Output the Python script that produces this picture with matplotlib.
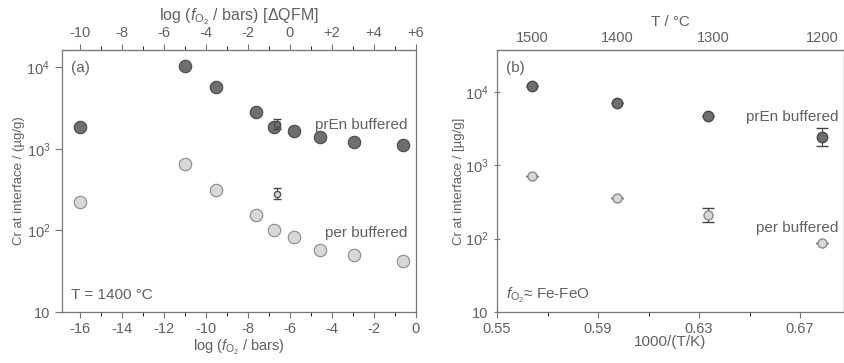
import matplotlib
matplotlib.use("Agg")
import matplotlib.pyplot as plt
from matplotlib.ticker import FixedLocator, NullLocator

plt.rcParams["font.family"] = ["Liberation Sans", "DejaVu Sans"]
plt.rcParams["mathtext.fontset"] = "custom"
plt.rcParams["mathtext.rm"] = "Liberation Sans"
plt.rcParams["mathtext.it"] = "Liberation Sans:italic"
plt.rcParams["axes.unicode_minus"] = False

TXT = "#606060"
DARK = "#6e6e6e"
DARK_EDGE = "#4a4a4a"
LIGHT = "#d8d8d8"
LIGHT_EDGE = "#8a8a8a"

# panel (a): log fO2 (bars) vs Cr at interface, T = 1400 C
a_prEn_x = [-16.0, -11.0, -9.5, -7.6, -6.73, -5.8, -4.55, -2.95, -0.6]
a_prEn_y = [1870, 10200, 5700, 2800, 1870, 1630, 1410, 1200, 1100]
a_per_x = [-16.0, -11.0, -9.5, -7.6, -6.73, -5.8, -4.55, -2.95, -0.6]
a_per_y = [225, 650, 316, 156, 102, 83, 58, 50, 42]
# single runs with error bars near log fO2 = -6.6
a_err_x = [-6.6, -6.6]
a_err_y = [2000, 280]
a_err_lo = [250, 40]
a_err_hi = [300, 50]

# panel (b): 1000/T vs Cr at interface, fO2 ~ Fe-FeO
b_x = [0.5640, 0.5977, 0.6335, 0.6785]
b_prEn_y = [12000, 7100, 4700, 2450]
b_prEn_lo = [0, 0, 0, 620]
b_prEn_hi = [0, 0, 0, 750]
b_per_y = [710, 357, 210, 87]
b_per_lo = [0, 0, 40, 0]
b_per_hi = [0, 0, 55, 0]

qfm_ticks = [-10, -8, -6, -4, -2, 0, 2, 4, 6]
qfm_labels = ["-10", "-8", "-6", "-4", "-2", "0", "+2", "+4", "+6"]
t_ticks = [1500, 1400, 1300, 1200]
y_ticks = [10, 100, 1000, 10000]
y_labels = ["10", r"10$^2$", r"10$^3$", r"10$^4$"]

fig = plt.figure(figsize=(8.45, 3.63), dpi=100)
axa = fig.add_axes([62 / 845, 51 / 363, 354 / 845, 262 / 363])
axb = fig.add_axes([497 / 845, 51 / 363, 347 / 845, 262 / 363])


def style(ax, ydir):
    for s in ax.spines.values():
        s.set_color("#777777")
        s.set_linewidth(0.9)
    ax.tick_params(colors="#777777", labelcolor=TXT, labelsize=10.5, width=0.8)
    ax.tick_params(axis="y", which="major", length=5, direction=ydir)
    ax.tick_params(axis="x", which="major", length=4, direction="out")
    ax.tick_params(axis="x", which="minor", length=3, direction="out")
    ax.set_yscale("log")
    ax.set_yticks(y_ticks)
    ax.set_yticklabels(y_labels)
    ax.yaxis.set_minor_locator(NullLocator())


# ---- panel (a)
style(axa, "out")
axa.scatter(a_prEn_x, a_prEn_y, s=80, c=DARK, edgecolors=DARK_EDGE, linewidths=0.8, zorder=3)
axa.scatter(a_per_x, a_per_y, s=80, c=LIGHT, edgecolors=LIGHT_EDGE, linewidths=0.8, zorder=3)
axa.errorbar(a_err_x[:1], a_err_y[:1], yerr=[a_err_lo[:1], a_err_hi[:1]], fmt="o", ms=4.5,
             mfc=DARK, mec=DARK_EDGE, ecolor="#444444", elinewidth=0.8, capsize=3, zorder=4)
axa.errorbar(a_err_x[1:], a_err_y[1:], yerr=[a_err_lo[1:], a_err_hi[1:]], fmt="o", ms=4.5,
             mfc=LIGHT, mec="#555555", ecolor="#444444", elinewidth=0.8, capsize=3, zorder=4)
axa.set_xlim(-16.86, 0.02)
axa.set_ylim(10, 10 ** 4.21)
axa.set_xticks(range(-16, 1, 2))
axa.xaxis.set_minor_locator(FixedLocator(range(-15, 0, 2)))
axa.set_xlabel(r"log ($f_{\rm O_2}$ / bars)", color=TXT, fontsize=10.5, labelpad=1)
axa.set_ylabel("Cr at interface / (µg/g)", color=TXT, fontsize=9.5, labelpad=1)
top = axa.secondary_xaxis("top", functions=(lambda x: x + 6, lambda x: x - 6))
top.set_xticks(qfm_ticks)
top.set_xticklabels(qfm_labels)
top.xaxis.set_minor_locator(FixedLocator(range(-9, 6, 2)))
top.tick_params(colors="#777777", labelcolor=TXT, labelsize=10.5, width=0.8)
top.tick_params(which="major", length=4, direction="out")
top.tick_params(which="minor", length=3, direction="out")
top.spines["top"].set_color("#777777")
top.set_xlabel(r"log ($f_{\rm O_2}$ / bars) [$\Delta$QFM]", color=TXT, fontsize=11.5, labelpad=4)
axa.text(0.025, 0.93, "(a)", transform=axa.transAxes, color=TXT, fontsize=11, va="center")
axa.text(0.025, 0.065, "T = 1400 °C", transform=axa.transAxes, color=TXT, fontsize=11, va="center")
axa.text(0.975, 0.715, "prEn buffered", transform=axa.transAxes, color=TXT, fontsize=11,
         ha="right", va="center")
axa.text(0.975, 0.30, "per buffered", transform=axa.transAxes, color=TXT, fontsize=11,
         ha="right", va="center")

# ---- panel (b)
style(axb, "inout")
axb.errorbar(b_x, b_prEn_y, yerr=[b_prEn_lo, b_prEn_hi], fmt="o", ms=7.5, mfc=DARK,
             mec=DARK_EDGE, ecolor="#444444", elinewidth=0.8, capsize=4, zorder=3)
axb.errorbar(b_x, b_per_y, yerr=[b_per_lo, b_per_hi], fmt="o", ms=6.5, mfc=LIGHT,
             mec=LIGHT_EDGE, ecolor="#444444", elinewidth=0.8, capsize=4, zorder=3)
axb.set_xlim(0.55, 0.6874)
axb.set_ylim(10, 10 ** 4.57)
axb.set_xticks([0.55, 0.59, 0.63, 0.67])
axb.set_xticklabels(["0.55", "0.59", "0.63", "0.67"])
axb.xaxis.set_minor_locator(FixedLocator([0.57, 0.61, 0.65]))
axb.set_xlabel("1000/(T/K)", color=TXT, fontsize=11, labelpad=-1)
axb.set_ylabel("Cr at interface / [µg/g]", color=TXT, fontsize=9.5, labelpad=0)
topb = axb.secondary_xaxis("top", functions=(lambda x: 1000 / x - 273.15,
                                             lambda t: 1000 / (t + 273.15)))
topb.set_xticks(t_ticks)
topb.xaxis.set_minor_locator(NullLocator())
topb.tick_params(colors="#777777", labelcolor=TXT, labelsize=10.5, width=0.8, length=0)
topb.spines["top"].set_color("#777777")
topb.set_xlabel("T / °C", color=TXT, fontsize=11, labelpad=4)
axb.text(0.025, 0.93, "(b)", transform=axb.transAxes, color=TXT, fontsize=11, va="center")
axb.text(0.025, 0.065, r"$f_{\rm O_2}$" + "≈ Fe-FeO", transform=axb.transAxes, color=TXT,
         fontsize=11, va="center")
axb.text(0.985, 0.745, "prEn buffered", transform=axb.transAxes, color=TXT, fontsize=11,
         ha="right", va="center")
axb.text(0.985, 0.32, "per buffered", transform=axb.transAxes, color=TXT, fontsize=11,
         ha="right", va="center")

fig.savefig("out.png", dpi=100)
